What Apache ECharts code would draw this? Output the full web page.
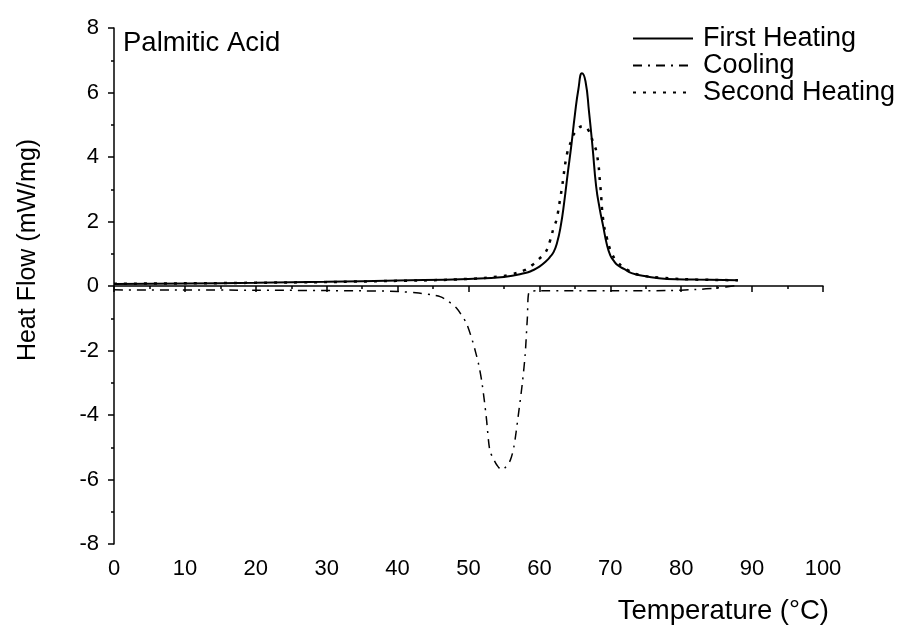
<!DOCTYPE html>
<html>
<head>
<meta charset="utf-8">
<script src="https://cdn.jsdelivr.net/npm/echarts@6/dist/echarts.min.js"></script>
<style>
  html, body { margin: 0; padding: 0; background: #fff; }
  #chart { width: 903px; height: 626px; }
</style>
</head>
<body>
<div id="chart"></div>
<script>
// DSC curves for palmitic acid
const firstHeating = [
  [0, 0.06], [10, 0.08], [20, 0.1], [30, 0.13], [40, 0.17], [50, 0.22], [55, 0.28],
  [58, 0.4], [59, 0.48], [60, 0.6], [61, 0.78], [61.5, 0.9], [62, 1.05], [62.5, 1.35],
  [63, 1.85], [63.5, 2.6], [64, 3.5], [64.5, 4.35], [65, 5.3], [65.5, 6.1], [66, 6.6],
  [66.5, 6.35], [67, 5.4], [67.5, 4.3], [68, 3.1], [68.5, 2.4], [69, 1.85], [69.5, 1.3],
  [70, 0.95], [70.5, 0.78], [71, 0.65], [72, 0.52], [73, 0.4], [75, 0.3], [78, 0.22],
  [82, 0.2], [88, 0.18]
];

const cooling = [
  [0, -0.12], [20, -0.13], [35, -0.15], [40, -0.17], [43, -0.22], [45, -0.28], [46, -0.33],
  [47, -0.45], [48.3, -0.68], [49, -0.9], [49.7, -1.15], [50.6, -1.73], [51, -2.05],
  [51.4, -2.4], [51.9, -3.0], [52.5, -4.05], [53, -5.09], [53.5, -5.35], [54, -5.55],
  [54.7, -5.7], [55.3, -5.6], [55.9, -5.4], [56.4, -4.99], [57, -4.05], [57.6, -3.0],
  [58, -2.1], [58.3, -1.0], [58.6, -0.17], [60, -0.15], [70, -0.15], [78, -0.14],
  [82, -0.11], [85, -0.06], [88, 0.02]
];

const secondHeating = [
  [0, 0.07], [20, 0.1], [40, 0.16], [50, 0.22], [54.5, 0.3], [56, 0.36], [58, 0.5],
  [59, 0.65], [60, 0.85], [60.8, 1.02], [61.5, 1.4], [62, 1.8], [62.4, 2.05], [63, 2.8],
  [63.2, 3.08], [63.9, 4.1], [64.5, 4.5], [65, 4.75], [66.2, 4.96], [67, 4.8], [67.5, 4.5],
  [68.1, 4.1], [68.6, 3.08], [69, 2.05], [69.5, 1.5], [70.2, 1.02], [71, 0.75],
  [72.4, 0.5], [74, 0.35], [77.5, 0.25], [82, 0.2], [88, 0.18]
];

const seriesNames = ['First Heating', 'Cooling', 'Second Heating'];

const font = 'Arial, "Liberation Sans", sans-serif';

const chart = echarts.init(document.getElementById('chart'));

const axisCommon = {
  axisLine: { show: true, lineStyle: { color: '#000', width: 1.5 } },
  axisTick: { show: true, inside: false, length: 6, lineStyle: { color: '#000', width: 1.5 } },
  minorTick: { show: true, splitNumber: 2, length: 3, lineStyle: { color: '#000', width: 1.5 } },
  splitLine: { show: false },
  axisLabel: { color: '#000', fontSize: 22, fontFamily: font }
};

chart.setOption({
  animation: false,
  backgroundColor: '#fff',
  grid: { left: 114, right: 80, top: 28, bottom: 82 },
  legend: {
    data: seriesNames,
    orient: 'vertical',
    left: 632,
    top: 25,
    padding: 0,
    itemWidth: 60,
    itemHeight: 14,
    itemGap: 0,
    itemStyle: { opacity: 0 },
    textStyle: { color: '#000', fontSize: 27, fontFamily: font, lineHeight: 27, padding: [0, 0, 0, 5] }
  },
  xAxis: Object.assign({}, axisCommon, {
    type: 'value',
    min: 0,
    max: 100,
    interval: 10,
    axisLabel: Object.assign({}, axisCommon.axisLabel, { margin: 14 })
  }),
  yAxis: Object.assign({}, axisCommon, {
    type: 'value',
    min: -8,
    max: 8,
    interval: 2,
    axisLabel: Object.assign({}, axisCommon.axisLabel, { margin: 15 })
  }),
  graphic: [
    {
      type: 'text', left: 123, top: 29,
      style: { text: 'Palmitic Acid', fontSize: 27.5, fontFamily: font, fill: '#000' }
    },
    {
      type: 'text', x: 28, y: 250, rotation: Math.PI / 2,
      style: { text: 'Heat Flow (mW/mg)', fontSize: 25, fontFamily: font, fill: '#000',
               textAlign: 'center', textVerticalAlign: 'middle' }
    },
    {
      type: 'text', x: 829, y: 611,
      style: { text: 'Temperature (°C)', fontSize: 27.5, fontFamily: font, fill: '#000',
               textAlign: 'right', textVerticalAlign: 'middle' }
    }
  ],
  series: [
    {
      name: seriesNames[0], type: 'line', data: firstHeating, symbol: 'none', smooth: 0.5,
      itemStyle: { color: 'rgba(0,0,0,0)' },
      lineStyle: { color: '#000', width: 2, type: 'solid' }
    },
    {
      name: seriesNames[1], type: 'line', data: cooling, symbol: 'none', smooth: 0.3,
      itemStyle: { color: 'rgba(0,0,0,0)' },
      lineStyle: { color: '#000', width: 1.5, type: [9, 6, 2, 6] }
    },
    {
      name: seriesNames[2], type: 'line', data: secondHeating, symbol: 'none', smooth: 0.5,
      itemStyle: { color: 'rgba(0,0,0,0)' },
      lineStyle: { color: '#000', width: 2.5, type: [3, 7] }
    }
  ]
});
</script>
</body>
</html>
